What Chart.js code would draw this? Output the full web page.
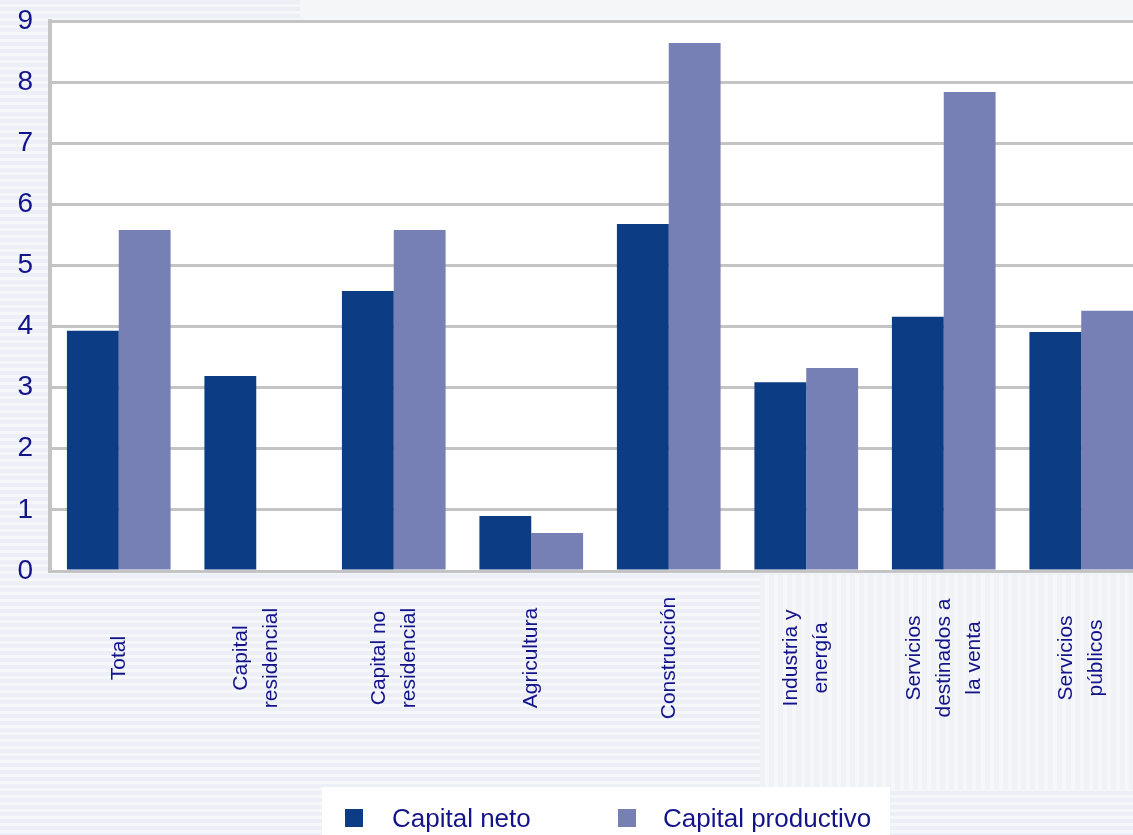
<!DOCTYPE html>
<html>
<head>
<meta charset="utf-8">
<script src="https://cdn.jsdelivr.net/npm/chart.js"></script>
<style>
  html, body { margin: 0; padding: 0; overflow: hidden; }
  body {
    width: 1133px; height: 835px; position: relative;
    background: repeating-linear-gradient(180deg, #eceff5 0px, #eceff5 4px, #f5f7fa 4px, #f5f7fa 7px);
  }
  #stripeR {
    position: absolute; left: 760px; top: 575px; width: 373px; height: 215px;
    background: repeating-linear-gradient(90deg, #f0f2f6 0px, #f0f2f6 5px, #f6f7fa 5px, #f6f7fa 9px);
  }
  #topband { position: absolute; left: 300px; top: 0; width: 833px; height: 20px; background: #f5f6f8; }
  #wrap { position: absolute; left: 0; top: 0; width: 1150px; height: 835px; }
</style>
</head>
<body>
<div id="stripeR"></div>
<div id="topband"></div>
<div id="wrap"><canvas id="chart" width="1150" height="835"></canvas></div>
<script>
// datos
const categorias = [
  ['Total'],
  ['Capital', 'residencial'],
  ['Capital no', 'residencial'],
  ['Agricultura'],
  ['Construcción'],
  ['Industria y', 'energía'],
  ['Servicios', 'destinados a', 'la venta'],
  ['Servicios', 'públicos']
];
const capitalNeto = [3.93, 3.19, 4.58, 0.90, 5.68, 3.09, 4.16, 3.91];
const capitalProductivo = [5.58, null, 5.58, 0.62, 8.64, 3.32, 7.84, 4.26];
const yTicks = [0, 1, 2, 3, 4, 5, 6, 7, 8, 9];

const azul = '#0c3c84';
const lila = '#7780b5';
const textoAzul = '#14148a';

// fondo blanco del área de trazado
const fondoPlot = {
  id: 'fondoPlot',
  beforeDraw(chart) {
    const { ctx, chartArea: a } = chart;
    ctx.save();
    ctx.fillStyle = '#ffffff';
    ctx.fillRect(a.left, a.top, a.right - a.left, a.bottom - a.top);
    ctx.restore();
  }
};

// etiquetas del eje x giradas y centradas
const etiquetasX = {
  id: 'etiquetasX',
  afterDraw(chart) {
    const { ctx } = chart;
    const xs = chart.scales.x;
    ctx.save();
    ctx.fillStyle = textoAzul;
    ctx.font = '21px "Liberation Sans", Arial, sans-serif';
    ctx.textAlign = 'center';
    ctx.textBaseline = 'middle';
    categorias.forEach((lineas, i) => {
      const x = xs.getPixelForValue(i);
      ctx.save();
      ctx.translate(x, 658);
      ctx.rotate(-Math.PI / 2);
      lineas.forEach((t, k) => {
        ctx.fillText(t, 0, (k - (lineas.length - 1) / 2) * 30);
      });
      ctx.restore();
    });
    ctx.restore();
  }
};

// leyenda en caja blanca
const leyenda = {
  id: 'leyenda',
  afterDraw(chart) {
    const { ctx } = chart;
    ctx.save();
    ctx.fillStyle = '#ffffff';
    ctx.fillRect(322, 787, 568, 48);
    ctx.font = '26px "Liberation Sans", Arial, sans-serif';
    ctx.textBaseline = 'middle';
    const pos = [[345, 392], [618, 663]];
    chart.data.datasets.forEach((ds, i) => {
      ctx.fillStyle = ds.backgroundColor;
      ctx.fillRect(pos[i][0], 809, 18, 18);
      ctx.fillStyle = textoAzul;
      ctx.fillText(ds.label, pos[i][1], 820);
    });
    ctx.restore();
  }
};

new Chart(document.getElementById('chart'), {
  type: 'bar',
  data: {
    labels: categorias.map(c => c.join(' ')),
    datasets: [
      { label: 'Capital neto', data: capitalNeto, backgroundColor: azul },
      { label: 'Capital productivo', data: capitalProductivo, backgroundColor: lila }
    ]
  },
  options: {
    responsive: false,
    animation: false,
    devicePixelRatio: 1,
    layout: { padding: { top: 21, right: 0, left: 0, bottom: 0 } },
    datasets: { bar: { categoryPercentage: 0.754, barPercentage: 1 } },
    plugins: {
      legend: { display: false },
      tooltip: { enabled: false }
    },
    scales: {
      x: {
        grid: { display: false },
        border: { display: false },
        ticks: { display: false },
        afterFit(scale) { scale.height = 264; scale.paddingLeft = 0; scale.paddingRight = 0; }
      },
      y: {
        min: 0,
        max: 9,
        afterBuildTicks(scale) { scale.ticks = yTicks.map(v => ({ value: v })); },
        afterFit(scale) { scale.width = 50; scale.paddingTop = 0; scale.paddingBottom = 0; },
        grid: { color: '#c4c4c4', lineWidth: 3, drawTicks: false },
        border: { color: '#c4c4c4', width: 4 },
        ticks: {
          color: textoAzul,
          padding: 17,
          font: { family: '"Liberation Sans", Arial, sans-serif', size: 28 }
        }
      }
    }
  },
  plugins: [fondoPlot, etiquetasX, leyenda]
});
</script>
</body>
</html>
